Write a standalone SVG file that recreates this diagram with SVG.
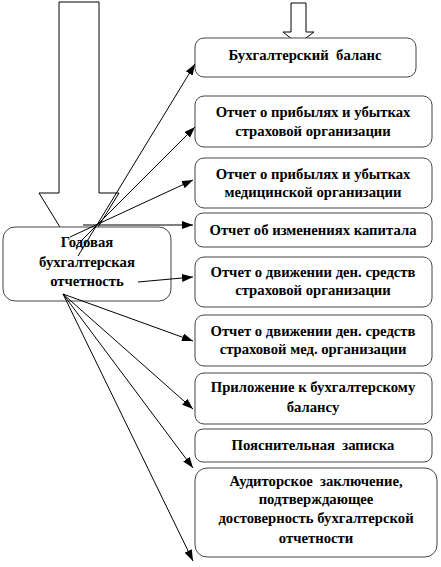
<svg xmlns="http://www.w3.org/2000/svg" width="441" height="567" viewBox="0 0 441 567" xml:space="preserve">
<defs>
<style>
.bg{fill:#fff}
.box{fill:#fff;stroke:#444;stroke-width:1}
.big{fill:#fff;stroke:#000;stroke-width:1}
.t{font-family:'Liberation Serif',serif;font-weight:700;font-size:14.7px;fill:#000;text-anchor:middle;white-space:pre}
.c{stroke:#000;stroke-width:1;fill:none;marker-end:url(#ah)}
</style>
<marker id="ah" markerUnits="userSpaceOnUse" markerWidth="12" markerHeight="10" refX="11" refY="4" orient="auto">
<path d="M0,0 L11,4 L0,8 Z" fill="#000"/>
</marker>
</defs>
<rect class="bg" x="0" y="0" width="441" height="567"/>
<g id="big-arrow"><polygon class="big" points="59,2 99,2 99,193 119,193 79,258 39,193 59,193"/></g>
<g id="small-arrow"><polygon class="big" points="291,3 306,3 306,32 314,32 298,44 283,32 291,32"/></g>
<g id="root">
<rect class="box" x="3" y="227" width="168" height="74" rx="12"/>
<text class="t" x="87" y="247">Годовая</text>
<text class="t" x="87" y="267">бухгалтерская</text>
<text class="t" x="87" y="286">отчетность</text>
</g>
<g id="n1"><rect class="box" x="195" y="38" width="221" height="39" rx="9"/>
<text class="t" x="305" y="60">Бухгалтерский  баланс</text></g>
<g id="n2"><rect class="box" x="195" y="96" width="237" height="51" rx="9"/>
<text class="t" x="313" y="117">Отчет о прибылях и убытках</text>
<text class="t" x="313" y="136">страховой организации</text></g>
<g id="n3"><rect class="box" x="195" y="158" width="237" height="50" rx="9"/>
<text class="t" x="313" y="179">Отчет о прибылях и убытках</text>
<text class="t" x="313" y="197">медицинской организации</text></g>
<g id="n4"><rect class="box" x="195" y="213" width="237" height="34" rx="8"/>
<text class="t" x="313" y="235">Отчет об изменениях капитала</text></g>
<g id="n5"><rect class="box" x="195" y="257" width="237" height="50" rx="9"/>
<text class="t" x="313" y="277">Отчет о движении ден. средств</text>
<text class="t" x="313" y="295">страховой организации</text></g>
<g id="n6"><rect class="box" x="195" y="315" width="237" height="51" rx="9"/>
<text class="t" x="313" y="336">Отчет о движении ден. средств</text>
<text class="t" x="313" y="354">страховой мед. организации</text></g>
<g id="n7"><rect class="box" x="195" y="373" width="237" height="51" rx="9"/>
<text class="t" x="313" y="392">Приложение к бухгалтерскому</text>
<text class="t" x="313" y="412">балансу</text></g>
<g id="n8"><rect class="box" x="195" y="429" width="237" height="33" rx="8"/>
<text class="t" x="313" y="450">Пояснительная  записка</text></g>
<g id="n9"><rect class="box" x="195" y="468" width="242" height="89" rx="12"/>
<text class="t" x="316" y="486">Аудиторское  заключение,</text>
<text class="t" x="316" y="504">подтверждающее</text>
<text class="t" x="316" y="523">достоверность бухгалтерской</text>
<text class="t" x="316" y="543">отчетности</text></g>
<g id="connectors">
<line class="c" x1="78" y1="256" x2="195" y2="64"/>
<line class="c" x1="76" y1="246" x2="195" y2="127"/>
<line class="c" x1="70" y1="237" x2="193" y2="180"/>
<line class="c" x1="83" y1="225" x2="193" y2="225"/>
<line class="c" x1="138" y1="282" x2="193" y2="277"/>
<line class="c" x1="63" y1="294" x2="193" y2="341"/>
<line class="c" x1="63" y1="294" x2="193" y2="409"/>
<line class="c" x1="63" y1="294" x2="193" y2="468"/>
<line class="c" x1="63" y1="294" x2="193" y2="561"/>
</g>
</svg>
